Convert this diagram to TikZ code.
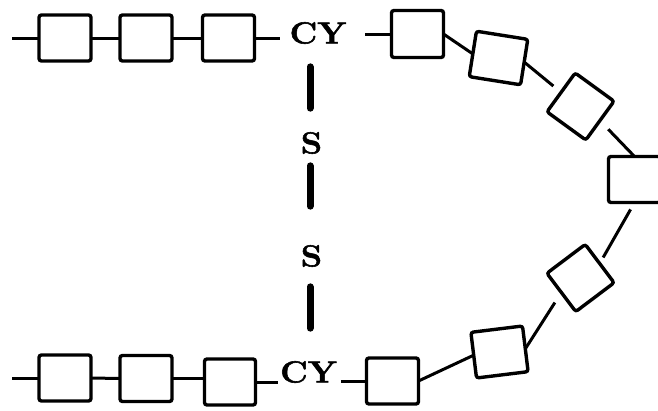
\documentclass[tikz,border=0pt]{standalone}
\usepackage{fontspec}
\newfontfamily\lblfont[FakeBold=1.8, FakeStretch=1.12]{Latin Modern Roman}
\begin{document}
\begin{tikzpicture}[x=1pt,y=-1pt,
  unit/.style={draw, line width=3.4pt, rounded corners=2.5pt, minimum width=52pt,
    minimum height=46pt, inner sep=0pt, outer sep=0pt},
  sq/.style={unit, minimum width=48pt, minimum height=48pt},
  link/.style={line width=3pt},
  bond/.style={line width=7pt, line cap=round},
  lbl/.style={font=\lblfont\fontsize{30.5}{30.5}\selectfont\bfseries, inner sep=0pt, outer sep=0pt}]
\useasboundingbox (0,0) rectangle (658,410);
\clip (0,0) rectangle (658,410);

% upper chain
\coordinate (inT) at (12,38);
\node[unit] (a1) at (65,38) {};
\node[unit] (a2) at (146,38) {};
\node[unit] (a3) at (228.5,38) {};
\node[lbl] (cyT) at (318,33) {CY};

% ring
\node[unit, minimum height=47pt] (r1) at (417.5,34) {};
\node[unit, rotate=-9] (r2) at (498.5,58) {};
\node[sq, rotate=-36] (r3) at (580.5,106.5) {};
\node[unit] (r4) at (634.5,179.5) {};
\node[sq, rotate=37] (r5) at (580.5,278) {};
\node[unit, rotate=7] (r6) at (499.5,352) {};
\node[unit] (r7) at (392.5,381) {};

% lower chain
\coordinate (inB) at (12,378);
\node[unit] (b1) at (65,378) {};
\node[unit] (b2) at (146,378.5) {};
\node[unit, minimum width=51pt] (b3) at (230,382) {};
\node[lbl] (cyB) at (308.5,372) {CY};

% sulfur bridge
\node[lbl] (s1) at (311.5,143) {S};
\node[lbl] (s2) at (311.5,256) {S};

% chain links
\draw[link] (inT) -- (a1.west);
\draw[link] (a1.east) -- (a2.west);
\draw[link] (a2.east) -- (a3.west);
\draw[link, shorten >=10pt] (a3.east) -- (a3.east -| cyT.west);
\draw[link, shorten <=19pt] (cyT.east |- r1.west) -- (r1.west);
\draw[link] (r1.east) -- (r2.west);
\draw[link, shorten >=10pt] (r2.east) -- (r3.west);
\draw[link, shorten <=12pt] (r3.east) -- (r4.north);
\draw[link, shorten <=8pt, shorten >=7pt] (r4.south) -- (r5.east);
\draw[link, shorten <=12pt] (r5.west) -- (r6.east);
\draw[link] (r6.west) -- (r7.east);
\draw[link, shorten <=4pt] (cyB.east |- r7.west) -- (r7.west);
\draw[link, shorten >=2pt] (b3.east) -- (b3.east -| cyB.west);
\draw[link] (b2.east) -- (b2.east -| b3.west);
\draw[link] (b1.east) -- (b2.west);
\draw[link] (inB) -- (b1.west);

% bridge bonds
\draw[bond, shorten <=23pt, shorten >=24pt] (310,0 |- cyT.south) -- (310,0 |- s1.north);
\draw[bond, shorten <=12pt, shorten >=39pt] (310,0 |- s1.south) -- (310,0 |- s2.north);
\draw[bond, shorten <=20pt, shorten >=33pt] (310,0 |- s2.south) -- (310,0 |- cyB.north);
\end{tikzpicture}
\end{document}
